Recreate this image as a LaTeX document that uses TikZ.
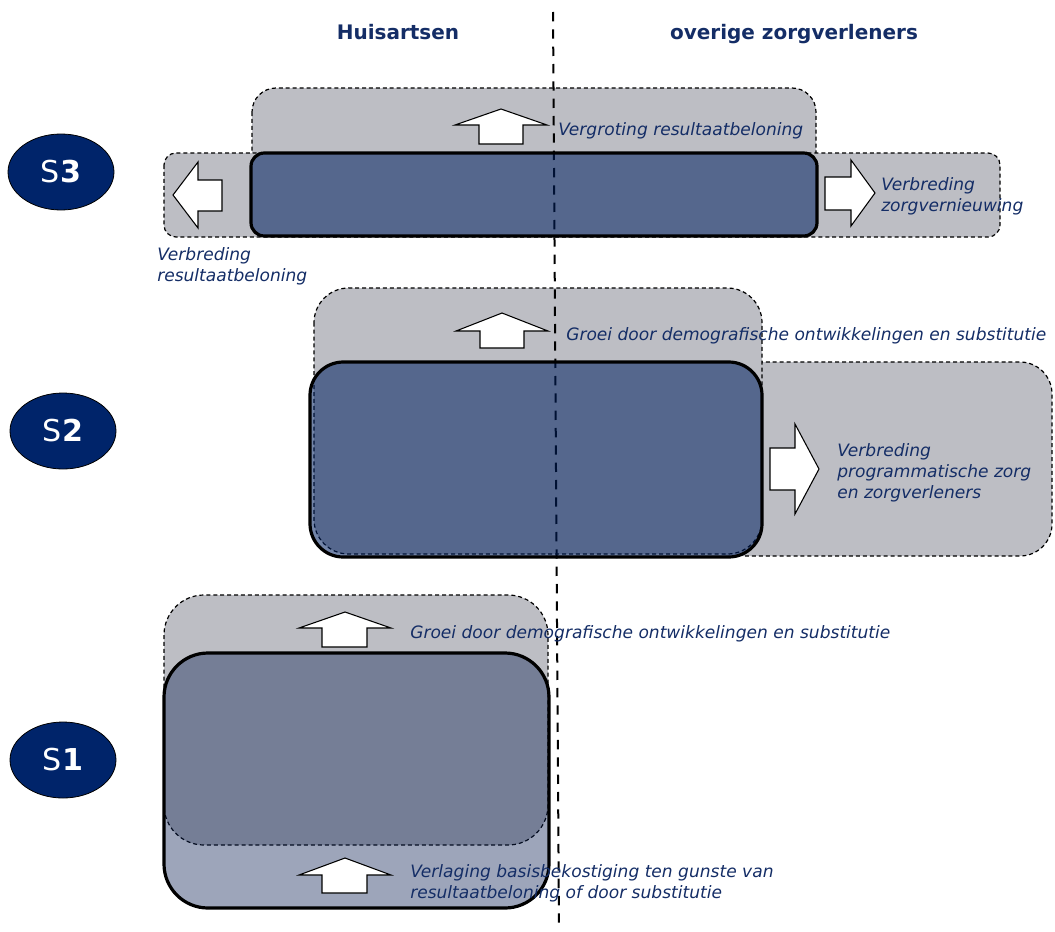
\documentclass[tikz,border=0pt]{standalone}
\usepackage{fontspec}
\setmainfont{DejaVu Sans}
\usetikzlibrary{shapes.geometric}
\definecolor{grayfill}{HTML}{BDBEC4}
\definecolor{boxnavy}{HTML}{002060}
\definecolor{s1navy}{HTML}{0A1F52}
\definecolor{txtnavy}{HTML}{142D66}
\definecolor{ellnavy}{HTML}{00246A}
\begin{document}
\begin{tikzpicture}[x=0.75pt, y=-0.75pt,
  gbox/.style={fill=grayfill, draw=black, line width=0.9pt, dash pattern=on 3pt off 2.2pt},
  gline/.style={draw=black, line width=0.9pt, dash pattern=on 3pt off 2.2pt},
  mainbox/.style={fill=boxnavy, fill opacity=0.55, draw=black, draw opacity=1, line width=2.4pt},
  blockarrow/.style={draw=black, fill=white, line width=0.8pt, line join=miter},
  lbl/.style={text=txtnavy, font=\fontsize{12.8}{15.4}\selectfont\itshape, inner sep=0pt, align=left},
  hdr/.style={text=txtnavy, font=\fontsize{15}{18}\selectfont\bfseries, inner sep=0pt},
  sell/.style={ellipse, draw=black, line width=0.6pt, fill=ellnavy, minimum width=79.5pt,
    minimum height=57pt, inner sep=0pt, text=white, font=\fontsize{22.6}{26}\selectfont},
  divider/.style={draw=black, line width=1.5pt, dash pattern=on 7pt off 6pt}
]
\useasboundingbox (0,0) rectangle (1055,931);

% ---------- S3 gray boxes ----------
\draw[gbox, rounded corners=18pt] (252,88) rectangle (816,236);
\draw[gbox, rounded corners=9pt] (164,153) rectangle (1000,237);

% ---------- S2 gray boxes ----------
\path[fill=grayfill, rounded corners=24pt] (700,362) rectangle (1052,556);
\draw[gline, rounded corners=24pt] (745,362) -- (1052,362) -- (1052,556) -- (745,556);
\draw[gbox, rounded corners=26pt] (314,288) rectangle (762,554);

% ---------- S1 gray box ----------
\draw[gbox, rounded corners=30pt] (164,595) rectangle (548,845);

% ---------- divider ----------
\coordinate (divtop) at (553,12);
\coordinate (divbot) at (559,930);
\draw[divider] (divtop) -- (divbot);

% ---------- main boxes ----------
\draw[mainbox, rounded corners=10pt] (251,153) rectangle (817,236);
\draw[mainbox, rounded corners=25pt] (310,362) rectangle (762,557);
\draw[mainbox, fill=s1navy, fill opacity=0.4, rounded corners=33pt] (164,653) rectangle (549,908);

% ---------- block arrows ----------
\draw[blockarrow] (501,109) -- (547,125) -- (523,125) -- (523,144) -- (479,144) -- (479,125) -- (455,125) -- cycle;
\draw[blockarrow] (173,195) -- (198,162) -- (198,180) -- (222,180) -- (222,211) -- (198,211) -- (198,228) -- cycle;
\draw[blockarrow] (875,193) -- (851,160) -- (851,177) -- (825,177) -- (825,210) -- (851,210) -- (851,226) -- cycle;
\draw[blockarrow] (502,313) -- (548,331) -- (524,331) -- (524,348) -- (480,348) -- (480,331) -- (456,331) -- cycle;
\draw[blockarrow] (819,469) -- (795,424) -- (795,448) -- (770,448) -- (770,490) -- (795,490) -- (795,514) -- cycle;
\draw[blockarrow] (345,612) -- (391,628) -- (367,628) -- (367,647) -- (322,647) -- (322,628) -- (299,628) -- cycle;
\draw[blockarrow] (345,858) -- (391,875) -- (367,875) -- (367,893) -- (322,893) -- (322,875) -- (299,875) -- cycle;

% ---------- headers ----------
\node[hdr, anchor=base] (h1) at (398,40) {Huisartsen};
\node[hdr, anchor=base] (h2) at (794,40) {overige zorgverleners};

% ---------- scenario ellipses ----------
\node[sell] (s3) at (61,172) {S\textbf{3}};
\node[sell] (s2) at (63,431) {S\textbf{2}};
\node[sell] (s1) at (63,760) {S\textbf{1}};

% ---------- labels (base = baseline of last line) ----------
\node[lbl, anchor=base west] (t3up) at (558,135) {Vergroting resultaatbeloning};
\node[lbl, anchor=base west] (t3r) at (881,211) {Verbreding\\zorgvernieuwing};
\node[lbl, anchor=base west] (t3l) at (157,281) {Verbreding\\resultaatbeloning};
\node[lbl, anchor=base west] (t2up) at (566,340) {Groei door demografische ontwikkelingen en substitutie};
\node[lbl, anchor=base west] (t2r) at (837,498) {Verbreding\\programmatische zorg\\en zorgverleners};
\node[lbl, anchor=base west] (t1up) at (410,638) {Groei door demografische ontwikkelingen en substitutie};
\node[lbl, anchor=base west] (t1dn) at (410,898) {Verlaging basisbekostiging ten gunste van\\resultaatbeloning of door substitutie};
\end{tikzpicture}
\end{document}
